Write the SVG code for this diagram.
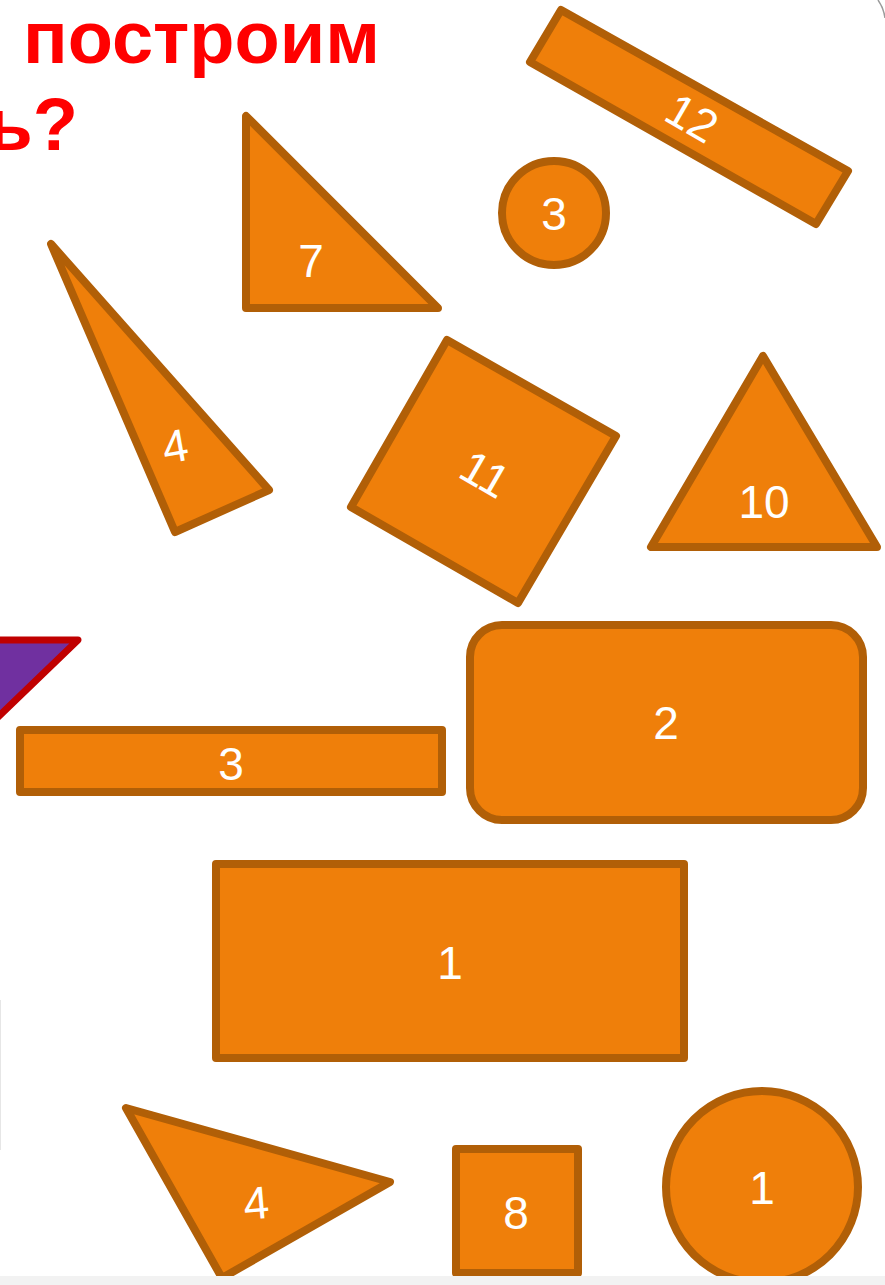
<svg xmlns="http://www.w3.org/2000/svg" width="885" height="1285" viewBox="0 0 885 1285">
<style>
.s{fill:#EF7F0A;stroke:#B15F07;stroke-width:8;stroke-linejoin:round}
.l{fill:#FFFFFF;font-family:"Liberation Sans",Arial,sans-serif;font-size:46px;text-anchor:middle}
.t{fill:#FF0000;font-family:"Liberation Sans",Arial,sans-serif;font-size:74px;font-weight:bold}
</style>
<rect x="0" y="0" width="885" height="1285" fill="#FFFFFF"/>
<g id="title">
<text class="t" x="23" y="63">построим</text>
<text class="t" x="78" y="150" text-anchor="end">ь?</text>
</g>
<g id="purple">
<polygon points="-20,640 78,640 -5,720 -20,720" fill="#7030A0" stroke="#C00000" stroke-width="7" stroke-linejoin="round"/>
</g>
<g id="n12">
<polygon class="s" points="561,10 848,171 816,224 530,62"/>
<text class="l" transform="translate(692,118) rotate(30)" y="16">12</text>
</g>
<g id="c3">
<circle class="s" cx="554" cy="213" r="52"/>
<text class="l" x="554" y="230">3</text>
</g>
<g id="t7">
<polygon class="s" points="246,116 246,308 438,308"/>
<text class="l" x="311" y="277">7</text>
</g>
<g id="t4a">
<polygon class="s" points="51,244 175,532 269,490"/>
<text class="l" transform="translate(175,446) rotate(-10)" y="16">4</text>
</g>
<g id="s11">
<polygon class="s" points="447,340 616,436 518,603 351,507"/>
<text class="l" transform="translate(485,474) rotate(30)" y="16">11</text>
</g>
<g id="t10">
<polygon class="s" points="763,356 651,547 877,547"/>
<text class="l" x="764" y="518">10</text>
</g>
<g id="r3">
<rect class="s" x="20" y="730" width="422" height="62"/>
<text class="l" x="231" y="780">3</text>
</g>
<g id="r2">
<rect class="s" x="470" y="625" width="393" height="195" rx="32"/>
<text class="l" x="666" y="739">2</text>
</g>
<g id="r1">
<rect class="s" x="216" y="864" width="468" height="194"/>
<text class="l" x="450" y="979">1</text>
</g>
<g id="t4b">
<polygon class="s" points="126,1108 390,1182 222,1278"/>
<text class="l" transform="translate(256,1203) rotate(-5)" y="16">4</text>
</g>
<g id="s8">
<rect class="s" x="456" y="1149" width="122" height="124"/>
<text class="l" x="516" y="1229">8</text>
</g>
<g id="c1">
<circle class="s" cx="762" cy="1187" r="96"/>
<text class="l" x="762" y="1204">1</text>
</g>
<g id="frame">
<rect x="0" y="1276" width="885" height="9" fill="#F2F2F2"/>
<path d="M878,0 A40,40 0 0 1 885,18" fill="none" stroke="#9A9A9A" stroke-width="1.5"/>
<line x1="0.5" y1="1000" x2="0.5" y2="1150" stroke="#E6E6E6" stroke-width="1"/>
</g>
</svg>
